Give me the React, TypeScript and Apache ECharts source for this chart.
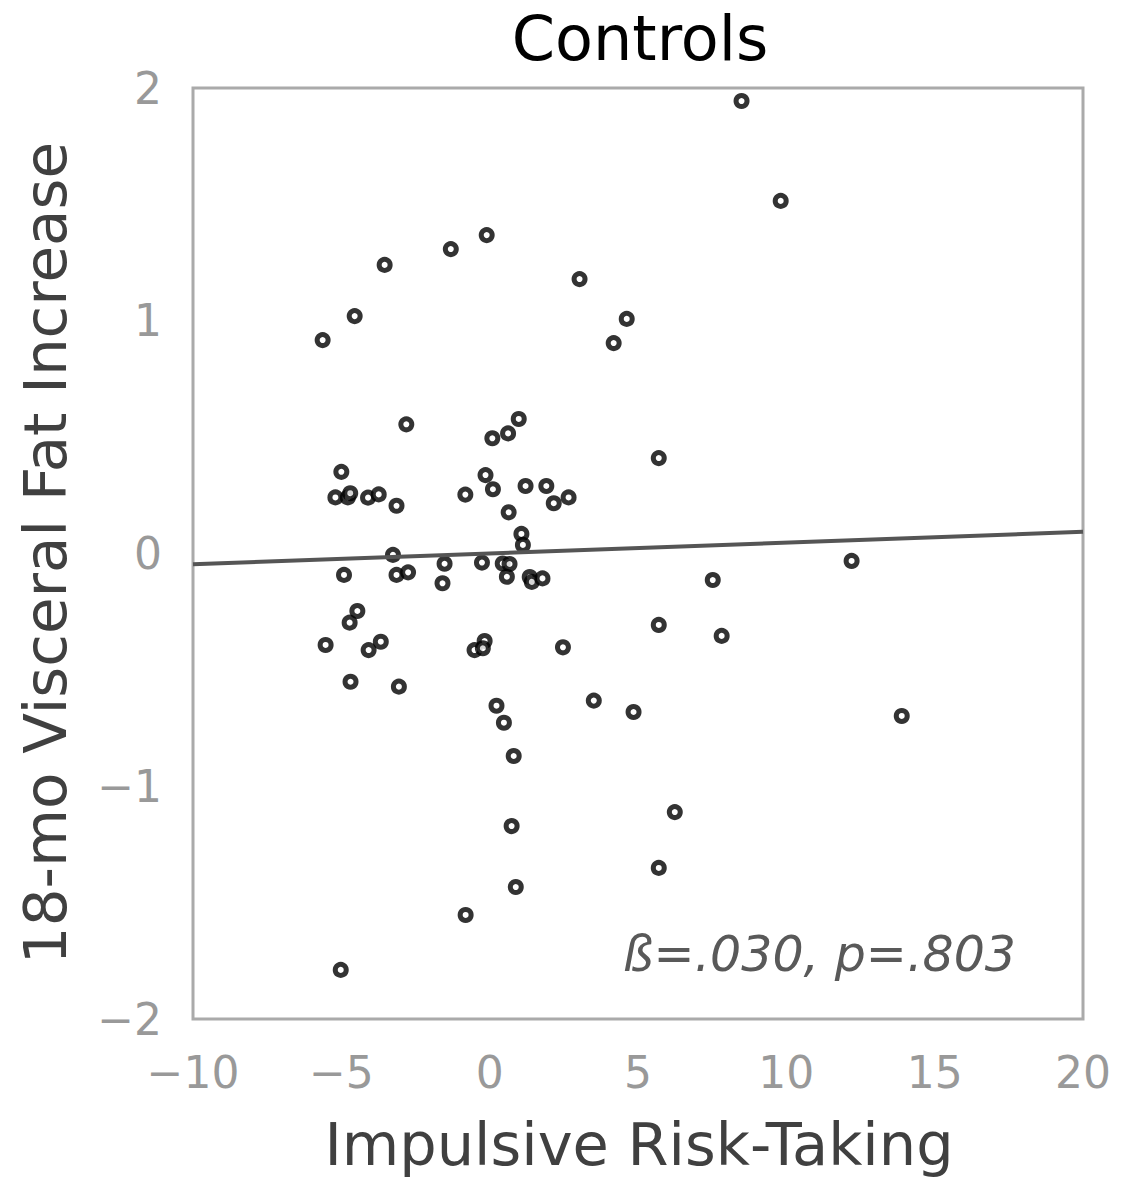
import React, { useEffect, useRef } from "react";
import * as echarts from "echarts";

const titleText = "Controls";
const xAxisName = "Impulsive Risk-Taking";
const yAxisName = "18-mo Visceral Fat Increase";
const annotation = "ß=.030, p=.803";

const xTicks = { min: -10, max: 20, interval: 5 };
const yTicks = { min: -2, max: 2, interval: 1 };

const riskTaking = [
  8.49, 9.81, -0.10, -1.31, -3.54, 3.03, -4.55, 4.62, -5.63, 4.18,
  -2.81, -5.00, -5.20, -4.78, -4.70, -4.10, -3.74, -3.14, -0.82, -3.26,
  -1.52, -4.91, -3.14, -2.75, -1.59, -4.46, -4.72, -5.53, -3.67, -4.08,
  -4.69, -3.06, 0.98, 0.62, 0.09, -0.14, 0.11, 1.21, 1.91, 2.16,
  2.66, 0.64, 1.07, 1.12, -0.26, 0.44, 0.67, 0.58, 1.35, 1.42,
  1.78, -0.17, -0.51, -0.23, 2.47, 0.23, 0.48, 3.51, 5.70, 12.20,
  7.52, 5.70, 7.82, 4.85, 13.89, 0.81, 6.24, 0.74, 5.70, 0.88,
  -0.81, -5.02,
];
const fatIncrease = [
  1.944, 1.515, 1.368, 1.308, 1.240, 1.179, 1.020, 1.008, 0.917, 0.904,
  0.555, 0.351, 0.241, 0.241, 0.259, 0.240, 0.254, 0.205, 0.253, -0.006,
  -0.044, -0.092, -0.092, -0.081, -0.128, -0.247, -0.297, -0.393, -0.379, -0.415,
  -0.551, -0.572, 0.578, 0.516, 0.495, 0.337, 0.276, 0.290, 0.290, 0.216,
  0.241, 0.177, 0.084, 0.037, -0.039, -0.043, -0.045, -0.100, -0.101, -0.122,
  -0.107, -0.376, -0.415, -0.407, -0.403, -0.654, -0.727, -0.632, 0.410, -0.032,
  -0.114, -0.307, -0.354, -0.681, -0.698, -0.870, -1.111, -1.171, -1.351, -1.433,
  -1.553, -1.789,
];
const fitX = [-10, 20];
const fitY = [-0.046, 0.093];

const FONT = "DejaVu Sans";
const fmt = (v: number) => (v < 0 ? "\u2212" + Math.abs(v) : String(v));

export default function App() {
  const ref = useRef<HTMLDivElement>(null);
  useEffect(() => {
    if (!ref.current) return;
    const chart = echarts.init(ref.current, null, { renderer: "svg" });
    const points = riskTaking.map((x, i) => [x, fatIncrease[i]]);
    const fit = fitX.map((x, i) => [x, fitY[i]]);
    chart.setOption({
      animation: false,
      backgroundColor: "#ffffff",
      grid: {
        left: 193,
        right: 40,
        top: 88,
        bottom: 160,
        show: true,
        borderColor: "#aaaaaa",
        borderWidth: 3,
        backgroundColor: "transparent",
      },
      xAxis: {
        type: "value",
        min: xTicks.min,
        max: xTicks.max,
        interval: xTicks.interval,
        axisLine: { show: false },
        axisTick: { show: false },
        splitLine: { show: false },
        axisLabel: {
          color: "#999999",
          fontSize: 44,
          fontFamily: FONT,
          margin: 31,
          formatter: fmt,
        },
      },
      yAxis: {
        type: "value",
        min: yTicks.min,
        max: yTicks.max,
        interval: yTicks.interval,
        axisLine: { show: false },
        axisTick: { show: false },
        splitLine: { show: false },
        axisLabel: {
          color: "#999999",
          fontSize: 44,
          fontFamily: FONT,
          margin: 31,
          formatter: fmt,
        },
      },
      graphic: [
        {
          type: "text",
          x: 640,
          y: 38,
          style: {
            text: titleText,
            fontSize: 62,
            fontFamily: FONT,
            fill: "#000000",
            textAlign: "center",
            textVerticalAlign: "middle",
          },
        },
        {
          type: "text",
          x: 639,
          y: 1144,
          style: {
            text: xAxisName,
            fontSize: 59,
            fontFamily: FONT,
            fill: "#404040",
            textAlign: "center",
            textVerticalAlign: "middle",
          },
        },
        {
          type: "text",
          x: 45,
          y: 553,
          rotation: Math.PI / 2,
          style: {
            text: yAxisName,
            fontSize: 59.5,
            fontFamily: FONT,
            fill: "#404040",
            textAlign: "center",
            textVerticalAlign: "middle",
          },
        },
        {
          type: "text",
          x: 1016,
          y: 954,
          style: {
            text: annotation,
            fontSize: 49,
            fontFamily: FONT,
            fontStyle: "italic",
            fill: "#595959",
            textAlign: "right",
            textVerticalAlign: "middle",
          },
        },
      ],
      series: [
        {
          type: "scatter",
          data: points,
          symbol: "circle",
          symbolSize: 11,
          itemStyle: { color: "#ffffff", borderColor: "#000000", borderWidth: 5 },
          z: 2,
        },
        {
          type: "line",
          data: fit,
          symbol: "none",
          lineStyle: { color: "#555555", width: 4 },
          z: 3,
        },
      ],
    });
    return () => chart.dispose();
  }, []);
  return (
    <div
      ref={ref}
      style={{ position: "fixed", left: 0, top: 0, width: 1123, height: 1179 }}
    />
  );
}
